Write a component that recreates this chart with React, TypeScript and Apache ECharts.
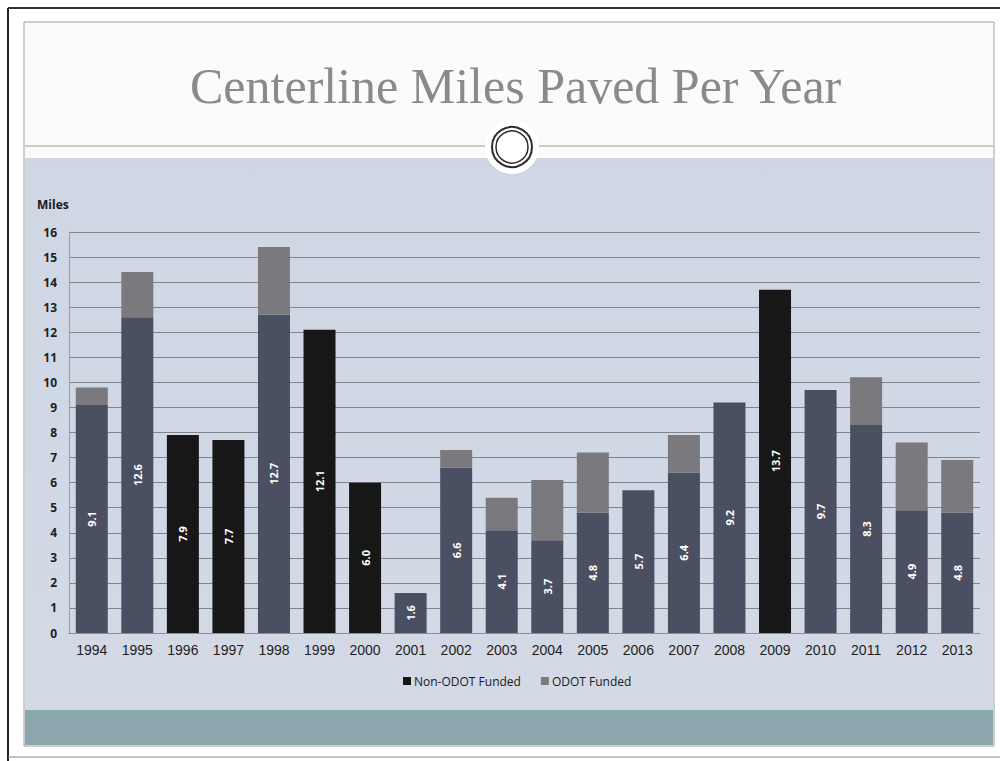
import React, { useEffect, useRef } from "react";
import * as echarts from "echarts";

// Paving totals by year (centerline miles)
const years = [
  "1994", "1995", "1996", "1997", "1998", "1999", "2000", "2001", "2002", "2003",
  "2004", "2005", "2006", "2007", "2008", "2009", "2010", "2011", "2012", "2013",
];
const nonOdotMiles = [
  9.1, 12.6, 7.9, 7.7, 12.7, 12.1, 6.0, 1.6, 6.6, 4.1,
  3.7, 4.8, 5.7, 6.4, 9.2, 13.7, 9.7, 8.3, 4.9, 4.8,
];
const odotMiles = [
  0.7, 1.8, 0, 0, 2.7, 0, 0, 0, 0.7, 1.3,
  2.4, 2.4, 0, 1.5, 0, 0, 0, 1.9, 2.7, 2.1,
];
const yTicks = [0, 16];
// Years whose non-ODOT bar prints solid black
const solidYears = ["1996", "1997", "1999", "2000", "2009"];

const SLATE = "#4a5062";
const BLACK = "#171717";
const GREY = "#7a7a7e";

export default function App() {
  const ref = useRef<HTMLDivElement>(null);

  useEffect(() => {
    if (!ref.current) return;
    const chart = echarts.init(ref.current, undefined, { renderer: "svg" });

    const axisFont = "'Open Sans', 'Liberation Sans', sans-serif";

    chart.setOption({
      animation: false,
      backgroundColor: "#ffffff",
      title: {
        text: "Centerline Miles Paved Per Year",
        left: 185,
        top: 56,
        textStyle: {
          fontFamily: "'Liberation Serif', 'DejaVu Serif', serif",
          fontSize: 50,
          fontWeight: "normal",
          color: "#8a8a8a",
        },
      },
      graphic: [
        // page frame lines
        { type: "line", z: -20, shape: { x1: 8, y1: 8, x2: 8, y2: 761 }, style: { stroke: "#222", lineWidth: 2 } },
        { type: "line", z: -20, shape: { x1: 8, y1: 8, x2: 1000, y2: 8 }, style: { stroke: "#333", lineWidth: 2 } },
        { type: "line", z: -20, shape: { x1: 8, y1: 757, x2: 1000, y2: 757 }, style: { stroke: "#888", lineWidth: 1 } },
        // slide body
        { type: "rect", z: -19, shape: { x: 24, y: 22, width: 970, height: 724 }, style: { fill: "#fbfbfb", stroke: "#a0a0a0", lineWidth: 1 } },
        {
          type: "rect", z: -18, shape: { x: 25, y: 158, width: 968, height: 553 },
          style: {
            fill: new echarts.graphic.LinearGradient(0, 0, 0, 1, [
              { offset: 0, color: "#cfd6e4" },
              { offset: 1, color: "#d3dae6" },
            ]),
          },
        },
        { type: "rect", z: -18, shape: { x: 25, y: 710, width: 968, height: 35 }, style: { fill: "#8ba6ad" } },
        // divider with ring ornament
        { type: "line", z: -17, shape: { x1: 25, y1: 146, x2: 993, y2: 146 }, style: { stroke: "#9a9a9a", lineWidth: 1 } },
        { type: "circle", z: -16, shape: { cx: 512, cy: 147, r: 27 }, style: { fill: "#ffffff" } },
        { type: "circle", z: -15, shape: { cx: 512, cy: 147, r: 20 }, style: { fill: "#ffffff", stroke: "#2a2a2a", lineWidth: 2 } },
        { type: "circle", z: -15, shape: { cx: 512, cy: 147, r: 16 }, style: { fill: "none", stroke: "#2a2a2a", lineWidth: 1.5 } },
        // axis caption
        {
          type: "text", z: 5, x: 37, y: 198,
          style: { text: "Miles", fontFamily: axisFont, fontSize: 12, fontWeight: "bold", fill: "#1a1a1a" },
        },
      ],
      legend: {
        bottom: 69,
        left: 398,
        itemWidth: 8,
        itemHeight: 8,
        itemGap: 20,
        icon: "rect",
        textStyle: { fontFamily: axisFont, fontSize: 12, color: "#1a1a1a", padding: [0, 0, 0, -2] },
        data: ["Non-ODOT Funded", "ODOT Funded"],
      },
      grid: { left: 69, right: 20, top: 232, bottom: 128, containLabel: false },
      xAxis: {
        type: "category",
        data: years,
        axisLine: { show: true, lineStyle: { color: "#8a8e98" } },
        axisTick: { show: false },
        axisLabel: {
          fontFamily: "'Liberation Sans Narrow', 'Liberation Sans', sans-serif",
          fontSize: 14,
          fontWeight: "normal",
          color: "#1e1e1e",
          margin: 10,
        },
      },
      yAxis: {
        type: "value",
        min: yTicks[0],
        max: yTicks[1],
        interval: 1,
        axisLine: { show: true, lineStyle: { color: "#9a9ea8" } },
        axisTick: { show: false },
        axisLabel: { fontFamily: axisFont, fontSize: 12, fontWeight: "bold", color: "#1e1e1e", margin: 12 },
        splitLine: { lineStyle: { color: "#80848f", width: 1 } },
      },
      series: [
        {
          name: "Non-ODOT Funded",
          type: "bar",
          stack: "total",
          barWidth: 32,
          itemStyle: { color: BLACK },
          data: nonOdotMiles.map((v, i) => ({
            value: v,
            itemStyle: { color: solidYears.includes(years[i]) ? BLACK : SLATE },
          })),
          label: {
            show: true,
            position: "inside",
            rotate: 90,
            color: "#ffffff",
            fontFamily: axisFont,
            fontSize: 11,
            fontWeight: "bold",
            formatter: (p: any) => Number(p.value).toFixed(1),
          },
        },
        {
          name: "ODOT Funded",
          type: "bar",
          stack: "total",
          barWidth: 32,
          itemStyle: { color: GREY },
          data: odotMiles,
        },
      ],
    });

    return () => chart.dispose();
  }, []);

  return (
    <div
      ref={ref}
      style={{ position: "fixed", left: 0, top: 0, width: 1000, height: 761 }}
    />
  );
}
